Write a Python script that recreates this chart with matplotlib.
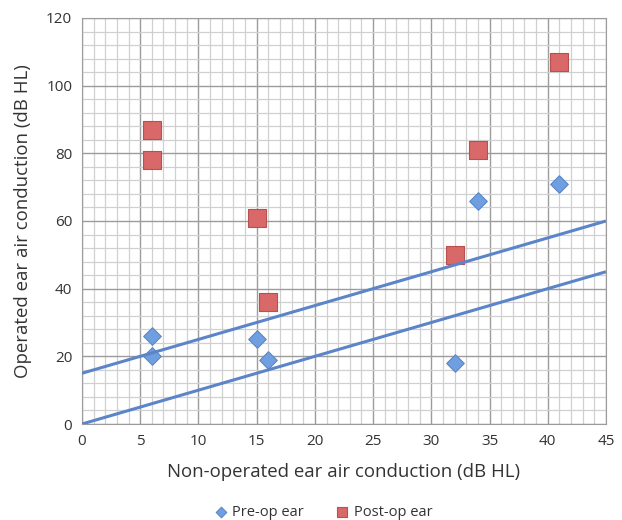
import numpy as np
import matplotlib
matplotlib.use('Agg')
import matplotlib.pyplot as plt
from matplotlib.ticker import MultipleLocator

# Non-operated ear AC (x) vs operated ear AC (y)
x_ear = [6, 6, 15, 16, 32, 34, 41]
pre_op = [26, 20, 25, 19, 18, 66, 71]
x_post = [6, 6, 15, 16, 32, 34, 41]
post_op = [87, 78, 61, 36, 50, 81, 107]

# reference lines: y = x and y = x + 15
line_x = [0, 45]
offsets = [0, 15]

plt.rcParams['font.family'] = ['Open Sans', 'DejaVu Sans']
txt = '#333333'

fig = plt.figure(figsize=(6.22, 5.2), dpi=100)
ax = fig.add_axes([0.1318, 0.1846, 0.8424, 0.7808])

ax.set_xlim(0, 45)
ax.set_ylim(0, 120)
ax.xaxis.set_major_locator(MultipleLocator(5))
ax.xaxis.set_minor_locator(MultipleLocator(1))
ax.yaxis.set_major_locator(MultipleLocator(20))
ax.yaxis.set_minor_locator(MultipleLocator(4))
ax.grid(True, which='minor', color='#d0d0d0', lw=0.9)
ax.grid(True, which='major', color='#9c9c9c', lw=1.0)
ax.set_axisbelow(True)
for s in ax.spines.values():
    s.set_color('#9c9c9c')
ax.tick_params(which='both', length=0, labelsize=11, labelcolor=txt, pad=7)

ax.scatter(x_ear, pre_op, marker='D', s=80, c='#6f9fe0', edgecolors='#5b88c8',
           linewidths=0.8, zorder=3, label='Pre-op ear')
ax.scatter(x_post, post_op, marker='s', s=150, c='#d96868', edgecolors='#b85050',
           linewidths=0.8, zorder=3, label='Post-op ear')

for off in offsets:
    ax.plot(line_x, [v + off for v in line_x], color='#5b85c8', lw=2.2,
            zorder=4, solid_capstyle='butt')

ax.set_xlabel('Non-operated ear air conduction (dB HL)', fontsize=13.4,
              color=txt, labelpad=10)
ax.set_ylabel('Operated ear air conduction (dB HL)', fontsize=13.4,
              color=txt, labelpad=10)

leg = fig.legend(*ax.get_legend_handles_labels(), loc='lower center',
                 bbox_to_anchor=(0.52, -0.025), ncol=2, frameon=False,
                 fontsize=10.5, handlelength=0.8, handletextpad=0.4,
                 columnspacing=2.2, markerscale=0.6, labelcolor=txt)

fig.savefig('out.png', dpi=100)
